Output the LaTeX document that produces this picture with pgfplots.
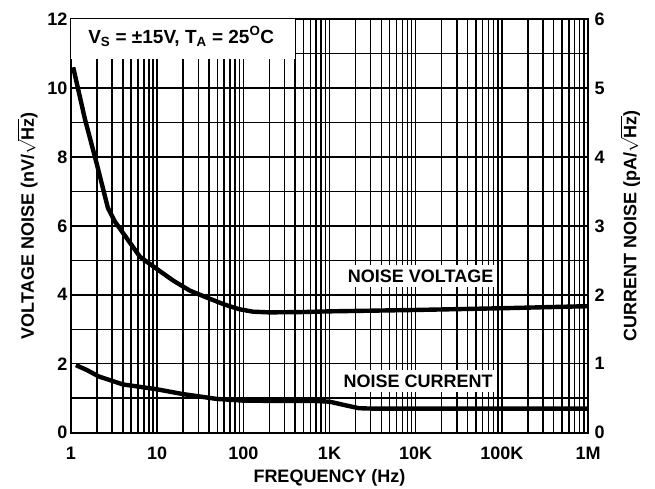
\documentclass[border=0pt]{standalone}
\usepackage{pgfplots}
\pgfplotsset{compat=1.18}
\usepackage{fontspec}
\setmainfont{Liberation Sans}
\newcommand{\lbl}{\fontsize{18bp}{21bp}\selectfont\bfseries}
\begin{document}
\begin{tikzpicture}
\path[use as bounding box] (0,0) rectangle (655bp,489bp);
% left axis: voltage noise
\begin{axis}[
  at={(71bp,56.3bp)}, anchor=south west,
  scale only axis, width=517bp, height=413.7bp,
  xmode=log, xmin=1, xmax=1e6,
  ymin=0, ymax=12,
  xtick={1,10,100,1000,10000,100000,1000000},
  xticklabels={1,10,100,1K,10K,100K,1M},
  ytick={0,2,...,12}, minor ytick={1,3,...,11},
  grid=both,
  major grid style={black, line width=1.5bp},
  minor grid style={black, line width=1.5bp},
  axis line style={black, line width=1.6bp},
  tick style={black, line width=1.5bp},
  major tick length=6bp, minor tick length=4bp,
  ticklabel style={font=\lbl},
  /pgf/number format/assume math mode=true,
  xticklabel style={yshift=-11bp},
  yticklabel style={xshift=0bp},
  label style={font=\lbl},
  xlabel={FREQUENCY (Hz)},
  ylabel={VOLTAGE NOISE (nV/$\sqrt{\mbox{Hz}}$)},
  xlabel style={yshift=-3bp},
  ylabel style={yshift=3bp},
]
\addplot[black, line width=4.4bp] coordinates {
  (1.06,10.6) (1.45,9.1) (2.0,7.78) (2.68,6.52) (3.24,6.12)
  (4.05,5.78) (6.33,5.10) (9.9,4.75) (15.4,4.41) (24,4.12) (37.6,3.92)
  (60,3.72) (90,3.58) (130,3.51) (200,3.49) (500,3.50) (1000,3.52)
  (10000,3.56) (100000,3.61) (1000000,3.67)
};
\fill[white] (axis cs:1,12) rectangle (axis cs:398,10.85);
\node[font=\fontsize{19bp}{22bp}\selectfont\bfseries] at (axis cs:19,11.5)
  {V\textsubscript{S} = ±15V, T\textsubscript{A} = 25\textsuperscript{O}C};
\node[font=\lbl, fill=white, inner xsep=4bp, inner ysep=4.5bp]
  at (axis cs:11400,4.54) {NOISE VOLTAGE};
\node[font=\lbl, fill=white, inner xsep=4bp, inner ysep=4.5bp]
  at (axis cs:10700,1.49) {NOISE CURRENT};
\end{axis}
% right axis: current noise
\begin{axis}[
  at={(71bp,56.3bp)}, anchor=south west,
  scale only axis, width=517bp, height=413.7bp,
  xmode=log, xmin=1, xmax=1e6,
  ymin=0, ymax=6,
  axis x line=none,
  axis y line*=right,
  ytick={0,1,...,6},
  axis line style={black, line width=1.6bp, -},
  tick style={black, line width=1.5bp},
  major tick length=6bp,
  ticklabel style={font=\lbl},
  /pgf/number format/assume math mode=true,
  yticklabel style={xshift=3bp},
  label style={font=\lbl},
  ylabel={CURRENT NOISE (pA/$\sqrt{\mbox{Hz}}$)},
  ylabel style={yshift=-9bp},
]
\addplot[black, line width=4.4bp] coordinates {
  (1.14,0.98) (1.52,0.91) (2.11,0.815) (4.0,0.70) (9.9,0.63) (19.9,0.56)
  (49,0.49) (100,0.465) (300,0.46) (700,0.46) (1000,0.45) (1500,0.40)
  (2200,0.355) (3000,0.35) (10000,0.35) (100000,0.35) (1000000,0.35)
};
\end{axis}
\end{tikzpicture}
\end{document}
